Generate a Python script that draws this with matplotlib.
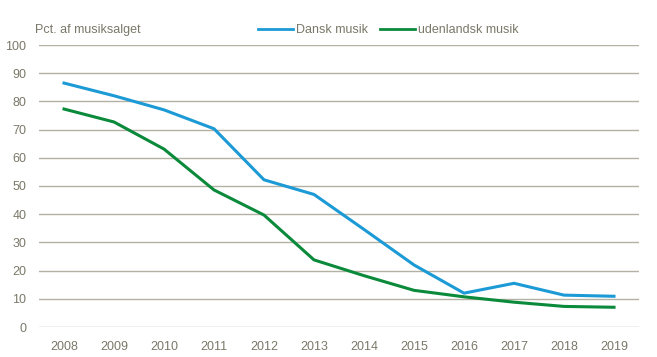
import matplotlib.pyplot as plt
from matplotlib import font_manager

# Data
years = [2008, 2009, 2010, 2011, 2012, 2013, 2014, 2015, 2016, 2017, 2018, 2019]
dansk = [86.5, 82.0, 77.0, 70.3, 52.2, 47.0, 34.6, 22.0, 12.0, 15.5, 11.3, 10.9]
udenlandsk = [77.3, 72.7, 63.1, 48.6, 39.7, 23.8, 18.2, 13.0, 10.7, 8.8, 7.3, 7.0]
yticks = list(range(0, 101, 10))

names = {f.name for f in font_manager.fontManager.ttflist}
font = 'Liberation Sans Narrow' if 'Liberation Sans Narrow' in names else 'Liberation Sans'
plt.rcParams['font.family'] = [font, 'DejaVu Sans']

text_col = '#7a7868'
grid_col = '#b3b1a3'
fs = 9

fig = plt.figure(figsize=(6.57, 3.57), dpi=100)
ax = fig.add_axes([39 / 657, 1 - 327 / 357, 600 / 657, 282 / 357])

ax.plot(years, dansk, color='#1c9ad6', lw=2.2, label='Dansk musik')
ax.plot(years, udenlandsk, color='#0a8a3a', lw=2.2, label='udenlandsk musik')

ax.set_xlim(2007.5, 2019.5)
ax.set_ylim(0, 100)
ax.set_yticks(yticks)
ax.set_xticks(years)
ax.grid(axis='y', color=grid_col, lw=1)
ax.set_axisbelow(True)
for s in ax.spines.values():
    s.set_visible(False)
ax.tick_params(length=0, labelsize=fs, colors=text_col, pad=10)
ax.tick_params(axis='y', pad=9)

fig.text(35 / 657, 1 - 30 / 357, 'Pct. af musiksalget', fontsize=fs,
         color=text_col, va='center', ha='left')

leg = ax.legend(loc='center left', bbox_to_anchor=(258 / 657, 1 - 30 / 357),
                bbox_transform=fig.transFigure, ncol=2, frameon=False,
                fontsize=fs, handlelength=2.8, handletextpad=0.2,
                columnspacing=1.0, borderpad=0, borderaxespad=0)
for line in leg.get_lines():
    line.set_linewidth(2.0)
for t in leg.get_texts():
    t.set_color(text_col)

fig.savefig('out.png', dpi=100)
